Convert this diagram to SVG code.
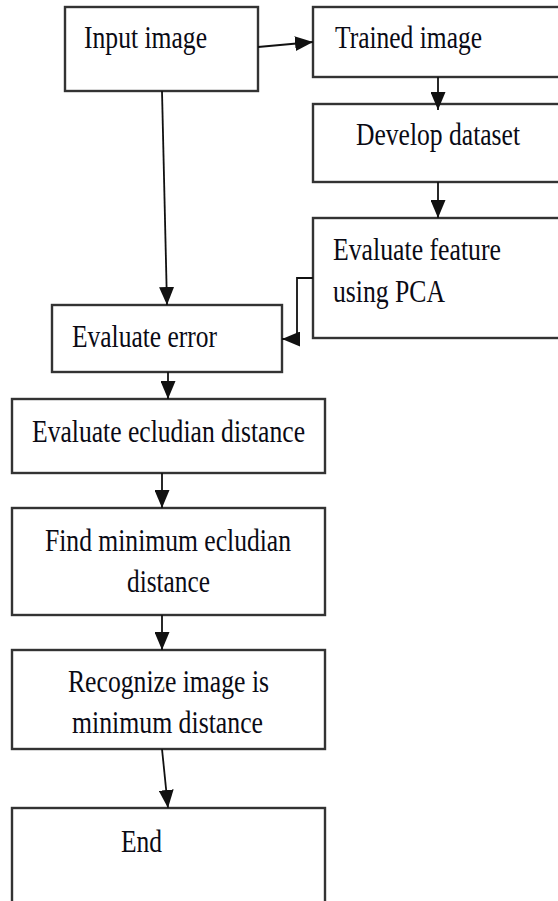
<svg xmlns="http://www.w3.org/2000/svg" width="558" height="901" viewBox="0 0 558 901">
<style>
.box{fill:#fff;stroke:#333;stroke-width:2.4}
.lbl{font-family:"Liberation Serif","Times New Roman",serif;font-size:31px;fill:#0a0a14}
.con{fill:none;stroke:#111;stroke-width:1.8}
</style>
<defs>
<marker id="ah" viewBox="0 0 18 15" refX="18" refY="7.5" markerWidth="18" markerHeight="15" markerUnits="userSpaceOnUse" orient="auto">
<path d="M0,0 L18,7.5 L0,15 z" fill="#111"/>
</marker>
</defs>
<rect width="558" height="901" fill="#fff"/>
<g id="input">
<rect class="box" x="65" y="7" width="193" height="84"/>
<text class="lbl" x="84" y="48" textLength="123" lengthAdjust="spacingAndGlyphs">Input image</text>
</g>
<g id="trained">
<rect class="box" x="313" y="7" width="260" height="70"/>
<text class="lbl" x="335" y="48" textLength="147" lengthAdjust="spacingAndGlyphs">Trained image</text>
</g>
<g id="develop">
<rect class="box" x="313" y="104" width="260" height="78"/>
<text class="lbl" x="356" y="145" textLength="164" lengthAdjust="spacingAndGlyphs">Develop dataset</text>
</g>
<g id="feature">
<rect class="box" x="313" y="218" width="260" height="120"/>
<text class="lbl" x="333" y="260" textLength="168" lengthAdjust="spacingAndGlyphs">Evaluate feature</text>
<text class="lbl" x="333" y="302" textLength="112" lengthAdjust="spacingAndGlyphs">using PCA</text>
</g>
<g id="error">
<rect class="box" x="52" y="305" width="230" height="67"/>
<text class="lbl" x="72" y="347" textLength="145" lengthAdjust="spacingAndGlyphs">Evaluate error</text>
</g>
<g id="euclid">
<rect class="box" x="12" y="399" width="313" height="74"/>
<text class="lbl" x="32" y="442" textLength="273" lengthAdjust="spacingAndGlyphs">Evaluate ecludian distance</text>
</g>
<g id="findmin">
<rect class="box" x="12" y="508" width="313" height="107"/>
<text class="lbl" x="45" y="551" textLength="246" lengthAdjust="spacingAndGlyphs">Find minimum ecludian</text>
<text class="lbl" x="127" y="592" textLength="83" lengthAdjust="spacingAndGlyphs">distance</text>
</g>
<g id="recognize">
<rect class="box" x="12" y="650" width="313" height="99"/>
<text class="lbl" x="68" y="692" textLength="201" lengthAdjust="spacingAndGlyphs">Recognize image is</text>
<text class="lbl" x="72" y="733" textLength="191" lengthAdjust="spacingAndGlyphs">minimum distance</text>
</g>
<g id="end">
<rect class="box" x="12" y="808" width="313" height="120"/>
<text class="lbl" x="121" y="852" textLength="41" lengthAdjust="spacingAndGlyphs">End</text>
</g>
<g id="connectors">
<path class="con" d="M258,47 L313,42" marker-end="url(#ah)"/>
<path class="con" d="M438,77 L438,110" marker-end="url(#ah)"/>
<path class="con" d="M438,182 L438,218" marker-end="url(#ah)"/>
<path class="con" d="M162,91 L167,305" marker-end="url(#ah)"/>
<path class="con" d="M313,278 H297 V339 H282" marker-end="url(#ah)"/>
<path class="con" d="M168,372 L168,399" marker-end="url(#ah)"/>
<path class="con" d="M162,473 L162,508" marker-end="url(#ah)"/>
<path class="con" d="M162,615 L162,650" marker-end="url(#ah)"/>
<path class="con" d="M162,749 L168,808" marker-end="url(#ah)"/>
</g>
</svg>
